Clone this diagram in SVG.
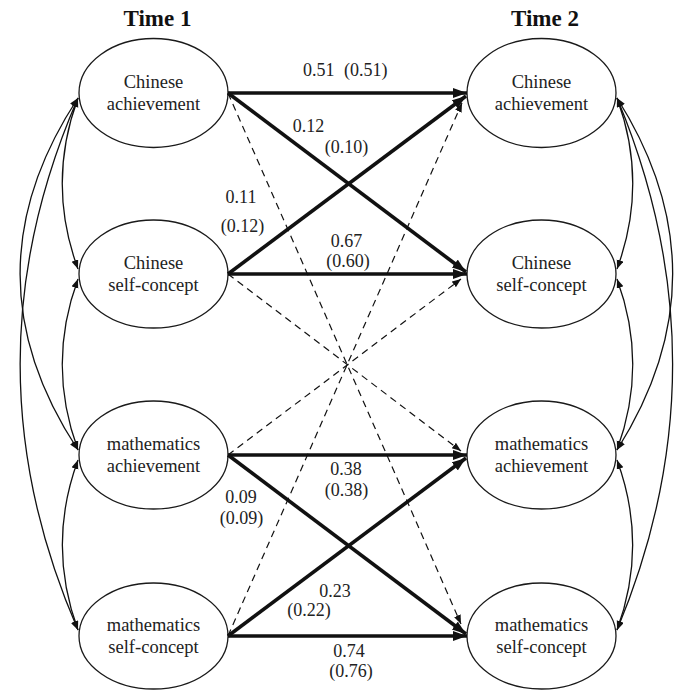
<svg xmlns="http://www.w3.org/2000/svg" width="682" height="690" viewBox="0 0 682 690">
<style>
.node ellipse{fill:#fff;stroke:#1a1a1a;stroke-width:1.3}
.node text{font-family:'Liberation Serif','DejaVu Serif',serif;font-size:18.5px;fill:#222;text-anchor:middle}
.title{font-family:'Liberation Serif','DejaVu Serif',serif;font-size:23px;font-weight:bold;fill:#111;text-anchor:middle}
.lbl{font-family:'Liberation Serif','DejaVu Serif',serif;font-size:18px;fill:#222;text-anchor:middle}
.thick{stroke:#111;stroke-width:3.6;fill:none;marker-end:url(#big)}
.dash{stroke:#111;stroke-width:1.2;fill:none;stroke-dasharray:7 5;marker-end:url(#small)}
.cov{stroke:#111;stroke-width:1.3;fill:none;marker-start:url(#cov);marker-end:url(#cov)}
</style>
<defs>
<marker id="big" markerUnits="userSpaceOnUse" markerWidth="16" markerHeight="12" refX="14" refY="5" orient="auto"><path d="M0,0 L14,5 L0,10 z" fill="#111"/></marker>
<marker id="small" markerUnits="userSpaceOnUse" markerWidth="11" markerHeight="9" refX="9" refY="3.5" orient="auto"><path d="M0,0 L9,3.5 L0,7 z" fill="#111"/></marker>
<marker id="cov" markerUnits="userSpaceOnUse" markerWidth="11" markerHeight="9" refX="9" refY="3.5" orient="auto-start-reverse"><path d="M0,0 L9,3.5 L0,7 z" fill="#111"/></marker>
</defs>
<rect width="682" height="690" fill="#fff"/>
<text class="title" x="157.5" y="26" font-family="Liberation Serif, serif">Time 1</text>
<text class="title" x="545" y="26" font-family="Liberation Serif, serif">Time 2</text>
<g id="n1_ca" class="node"><ellipse cx="153.5" cy="93" rx="74.5" ry="54.5"/><text x="153.5" y="88">Chinese</text><text x="153.5" y="110">achievement</text></g>
<g id="n1_cs" class="node"><ellipse cx="153.5" cy="274" rx="74.5" ry="54"/><text x="153.5" y="269">Chinese</text><text x="153.5" y="291">self-concept</text></g>
<g id="n1_ma" class="node"><ellipse cx="153.5" cy="455" rx="74.5" ry="54"/><text x="153.5" y="450">mathematics</text><text x="153.5" y="472">achievement</text></g>
<g id="n1_ms" class="node"><ellipse cx="153.5" cy="636" rx="74.5" ry="53"/><text x="153.5" y="631">mathematics</text><text x="153.5" y="653">self-concept</text></g>
<g id="n2_ca" class="node"><ellipse cx="541.5" cy="93" rx="74.5" ry="54.5"/><text x="541.5" y="88">Chinese</text><text x="541.5" y="110">achievement</text></g>
<g id="n2_cs" class="node"><ellipse cx="541.5" cy="274" rx="74.5" ry="54"/><text x="541.5" y="269">Chinese</text><text x="541.5" y="291">self-concept</text></g>
<g id="n2_ma" class="node"><ellipse cx="541.5" cy="455" rx="74.5" ry="54"/><text x="541.5" y="450">mathematics</text><text x="541.5" y="472">achievement</text></g>
<g id="n2_ms" class="node"><ellipse cx="541.5" cy="636" rx="74.5" ry="53"/><text x="541.5" y="631">mathematics</text><text x="541.5" y="653">self-concept</text></g>
<g id="connectors">
<path class="thick" d="M228,93 L467,93"/>
<path class="thick" d="M228,93 L466,272"/>
<path class="thick" d="M228,274 L466,96"/>
<path class="thick" d="M228,274 L467,274"/>
<path class="thick" d="M228,455 L467,455"/>
<path class="thick" d="M228,455 L466,634"/>
<path class="thick" d="M228,636 L466,458"/>
<path class="thick" d="M228,636 L467,636"/>
<path class="dash" d="M228,93 L461,624"/>
<path class="dash" d="M228,636 L462,103"/>
<path class="dash" d="M228,274 L461,451"/>
<path class="dash" d="M228,455 L461,279"/>
<path class="cov" d="M78,98 C57,155 57,212 78,269"/>
<path class="cov" d="M78,98 C1,215 1,333 78,450"/>
<path class="cov" d="M78,98 C1,275 1,453 78,630"/>
<path class="cov" d="M78,279 C57,336 57,393 78,450"/>
<path class="cov" d="M78,460 C57,517 57,573 78,630"/>
<path class="cov" d="M617,98 C638,155 638,212 617,269"/>
<path class="cov" d="M617,98 C691,215 691,333 617,450"/>
<path class="cov" d="M617,98 C691,275 691,453 617,630"/>
<path class="cov" d="M617,279 C638,336 638,393 617,450"/>
<path class="cov" d="M617,460 C638,517 638,573 617,630"/>
</g>
<g id="labels">
<text class="lbl" x="303" y="76" style="text-anchor:start">0.51</text>
<text class="lbl" x="344" y="76" style="text-anchor:start">(0.51)</text>
<text class="lbl" x="308.5" y="132">0.12</text>
<text class="lbl" x="346.5" y="153">(0.10)</text>
<text class="lbl" x="241" y="203">0.11</text>
<text class="lbl" x="242.5" y="232">(0.12)</text>
<text class="lbl" x="346.5" y="247">0.67</text>
<text class="lbl" x="348" y="267">(0.60)</text>
<text class="lbl" x="346" y="475">0.38</text>
<text class="lbl" x="346.5" y="496">(0.38)</text>
<text class="lbl" x="241" y="503">0.09</text>
<text class="lbl" x="241.5" y="524">(0.09)</text>
<text class="lbl" x="335" y="597">0.23</text>
<text class="lbl" x="309" y="616">(0.22)</text>
<text class="lbl" x="349" y="657">0.74</text>
<text class="lbl" x="351" y="677">(0.76)</text>
</g>
</svg>
